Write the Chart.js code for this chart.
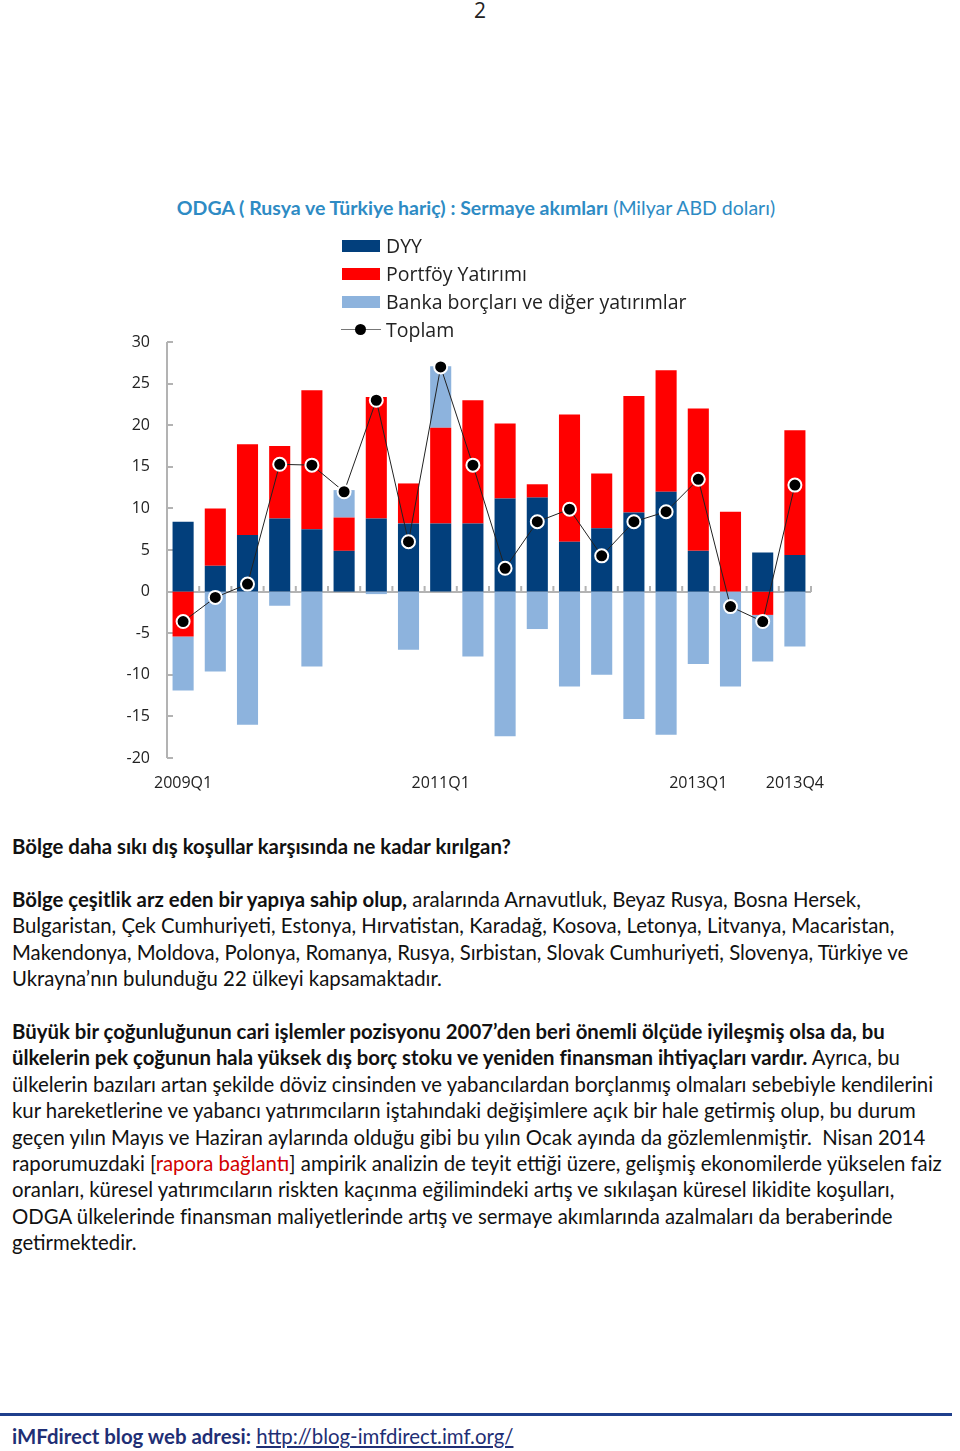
<!DOCTYPE html>
<html lang="tr">
<head>
<meta charset="utf-8">
<script src="https://cdn.jsdelivr.net/npm/chart.js@4.4.1/dist/chart.umd.min.js"></script>
<style>
  html, body { margin:0; padding:0; background:#fff; }
  body { width:960px; height:1451px; position:relative; overflow:hidden; font-family: Lato, "Liberation Sans", sans-serif; color:#111; }
  .abs { position:absolute; white-space:nowrap; }
  #pagenum { left:0; width:960px; top:-4px; text-align:center; font-size:21px; font-family:"Open Sans", sans-serif; color:#222; }
  #title { left:0; width:952px; top:196px; text-align:center; font-size:19.5px; color:#2e8bc4; }
  #title b { font-weight:700; }
  #chartBox { position:absolute; left:100px; top:225px; width:760px; height:580px; }
  #legend { position:absolute; left:341px; top:232px; font-family:"Open Sans", sans-serif; font-size:19.5px; color:#222; }
  .li { position:relative; height:28px; line-height:28px; padding-left:45px; }
  .sw { position:absolute; left:1px; top:8px; width:38px; height:12px; }
  .ln { position:absolute; left:0; top:13px; width:40px; height:1px; background:#777; }
  .dot { position:absolute; left:14px; top:8px; width:11px; height:11px; border-radius:50%; background:#000; }
  .txt { font-size:20.35px; line-height:26.4px; }
  .txt b { font-weight:700; }
  #rule { left:0; top:1413px; width:952px; height:3px; background:#1f3f8c; }
  #foot { left:12px; top:1424px; font-size:20.4px; color:#1f2f75; }
  #foot a { color:#1f2f75; text-decoration:underline; }
  .red { color:#d20000; }
</style>
</head>
<body>
<div id="pagenum" class="abs">2</div>
<div id="title" class="abs"><b>ODGA ( Rusya ve Türkiye hariç) : Sermaye akımları</b> (Milyar ABD doları)</div>
<div id="chartBox"><canvas id="c"></canvas></div>
<div id="legend"></div>

<div class="abs txt" style="left:12px; top:833px;"><b>Bölge daha sıkı dış koşullar karşısında ne kadar kırılgan?</b></div>

<div class="abs txt" style="left:12px; top:886px;">
<b>Bölge çeşitlik arz eden bir yapıya sahip olup,</b> aralarında Arnavutluk, Beyaz Rusya, Bosna Hersek,<br>
Bulgaristan, Çek Cumhuriyeti, Estonya, Hırvatistan, Karadağ, Kosova, Letonya, Litvanya, Macaristan,<br>
Makendonya, Moldova, Polonya, Romanya, Rusya, Sırbistan, Slovak Cumhuriyeti, Slovenya, Türkiye ve<br>
Ukrayna’nın bulunduğu 22 ülkeyi kapsamaktadır.
</div>

<div class="abs txt" style="left:12px; top:1018px;">
<b>Büyük bir çoğunluğunun cari işlemler pozisyonu 2007’den beri önemli ölçüde iyileşmiş olsa da, bu</b><br>
<b>ülkelerin pek çoğunun hala yüksek dış borç stoku ve yeniden finansman ihtiyaçları vardır.</b> Ayrıca, bu<br>
ülkelerin bazıları artan şekilde döviz cinsinden ve yabancılardan borçlanmış olmaları sebebiyle kendilerini<br>
kur hareketlerine ve yabancı yatırımcıların iştahındaki değişimlere açık bir hale getirmiş olup, bu durum<br>
geçen yılın Mayıs ve Haziran aylarında olduğu gibi bu yılın Ocak ayında da gözlemlenmiştir.&nbsp; Nisan 2014<br>
raporumuzdaki [<span class="red">rapora bağlantı</span>] ampirik analizin de teyit ettiği üzere, gelişmiş ekonomilerde yükselen faiz<br>
oranları, küresel yatırımcıların riskten kaçınma eğilimindeki artış ve sıkılaşan küresel likidite koşulları,<br>
ODGA ülkelerinde finansman maliyetlerinde artış ve sermaye akımlarında azalmaları da beraberinde<br>
getirmektedir.
</div>

<div id="rule" class="abs"></div>
<div id="foot" class="abs"><b>iMFdirect blog web adresi:</b> <a>http://blog-imfdirect.imf.org/</a></div>

<script>
// ---- Data ----
const categories = ['2009Q1','2009Q2','2009Q3','2009Q4','2010Q1','2010Q2','2010Q3','2010Q4',
                    '2011Q1','2011Q2','2011Q3','2011Q4','2012Q1','2012Q2','2012Q3','2012Q4',
                    '2013Q1','2013Q2','2013Q3','2013Q4'];
const shownXLabels = ['2009Q1','2011Q1','2013Q1','2013Q4'];
const yTicks = [-20,-15,-10,-5,0,5,10,15,20,25,30];
const seriesNames = ['DYY','Portföy Yatırımı','Banka borçları ve diğer yatırımlar','Toplam'];
const dyy     = [8.4, 3.1, 6.8, 8.8, 7.5, 4.9, 8.8, 8.2, 8.2, 8.2, 11.2, 11.3, 6.0, 7.6, 9.5, 12.0, 4.9, 0.0, 4.7, 4.4];
const portfoy = [-5.4, 6.9, 10.9, 8.7, 16.7, 4.0, 14.6, 4.8, 11.5, 14.8, 9.0, 1.6, 15.3, 6.6, 14.0, 14.6, 17.1, 9.6, -2.8, 15.0];
const banka   = [-6.5, -9.6, -16.0, -1.7, -9.0, 3.3, -0.3, -7.0, 7.4, -7.8, -17.4, -4.5, -11.4, -10.0, -15.3, -17.2, -8.7, -11.4, -5.6, -6.6];
const toplam  = [-3.6, -0.7, 0.9, 15.3, 15.2, 12.0, 23.0, 6.0, 27.0, 15.2, 2.8, 8.4, 9.9, 4.3, 8.4, 9.6, 13.5, -1.8, -3.6, 12.8];

const COL_DYY = '#023f7c', COL_PORT = '#ff0000', COL_BANKA = '#8db3dd', AXIS = '#b3b3b3';

const axisDecor = {
  id: 'axisDecor',
  beforeDatasetsDraw(chart) {
    const {ctx, chartArea: a, scales: {x, y}} = chart;
    ctx.save();
    ctx.strokeStyle = AXIS; ctx.lineWidth = 2;
    ctx.beginPath(); ctx.moveTo(a.left, a.top); ctx.lineTo(a.left, a.bottom); ctx.stroke();
    yTicks.forEach(v => { const py = Math.round(y.getPixelForValue(v)); ctx.beginPath(); ctx.moveTo(a.left, py); ctx.lineTo(a.left + 6, py); ctx.stroke(); });
    const z = Math.round(y.getPixelForValue(0));
    ctx.beginPath(); ctx.moveTo(a.left, z); ctx.lineTo(a.right, z); ctx.stroke();
    const step = x.getPixelForValue(1) - x.getPixelForValue(0);
    for (let i = 0; i < categories.length; i++) {
      const px = x.getPixelForValue(i) + step / 2;
      ctx.beginPath(); ctx.moveTo(px, z); ctx.lineTo(px, z - 6); ctx.stroke();
    }
    ctx.restore();
  }
};

const chart = new Chart(document.getElementById('c'), {
  data: {
    labels: categories,
    datasets: [
      { type:'bar', label: seriesNames[0], data: dyy, backgroundColor: COL_DYY, stack:'s', order:1 },
      { type:'bar', label: seriesNames[1], data: portfoy, backgroundColor: COL_PORT, stack:'s', order:1 },
      { type:'bar', label: seriesNames[2], data: banka, backgroundColor: COL_BANKA, stack:'s', order:1 },
      { type:'line', label: seriesNames[3], data: toplam, stack:'line', order:0,
        borderColor:'#222', borderWidth:1, pointRadius:6.5, pointBackgroundColor:'#000',
        pointBorderColor:'#fff', pointBorderWidth:2, tension:0 }
    ]
  },
  options: {
    responsive: true, maintainAspectRatio: false, animation: false,
    layout: { padding: { top: 117, left: 0, right: 49, bottom: 0 } },
    datasets: { bar: { categoryPercentage: 1, barPercentage: 0.655, borderWidth: 0 } },
    plugins: { legend: { display: false }, tooltip: { enabled: false } },
    scales: {
      x: {
        stacked: true, offset: true,
        grid: { display: false }, border: { display: false },
        ticks: { autoSkip: false, maxRotation: 0, padding: 8, color:'#222',
                 font: { family: '"Open Sans", sans-serif', size: 16 },
                 callback(v, i) { const l = categories[i]; return shownXLabels.includes(l) ? l : ''; } },
        afterFit(s) { s.height = 47; }
      },
      y: {
        stacked: true, min: -20, max: 30,
        grid: { display: false }, border: { display: false },
        afterBuildTicks(s) { s.ticks = yTicks.map(v => ({ value: v })); },
        ticks: { padding: 9, color:'#222', font: { family: '"Open Sans", sans-serif', size: 16 } },
        afterFit(s) { s.width = 67; }
      }
    }
  },
  plugins: [axisDecor]
});

const lg = document.getElementById('legend');
chart.data.datasets.forEach(ds => {
  const d = document.createElement('div'); d.className = 'li';
  if (ds.type === 'bar') {
    const s = document.createElement('span'); s.className = 'sw'; s.style.background = ds.backgroundColor; d.appendChild(s);
  } else {
    const l = document.createElement('span'); l.className = 'ln'; d.appendChild(l);
    const o = document.createElement('span'); o.className = 'dot'; d.appendChild(o);
  }
  d.appendChild(document.createTextNode(ds.label));
  lg.appendChild(d);
});
</script>
</body>
</html>
